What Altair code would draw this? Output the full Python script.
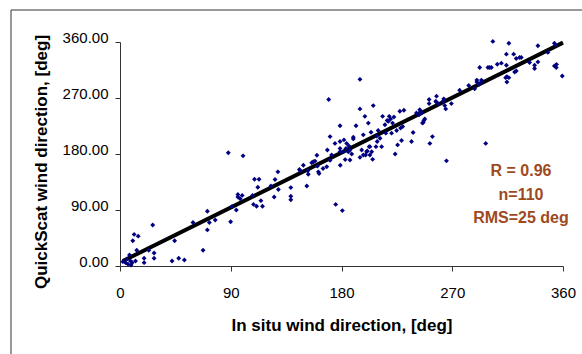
import altair as alt
import pandas as pd

in_situ = [2.3, 4.5, 5.5, 6.5, 7.7, 8.5, 9, 9.9, 12.6, 13.6, 10.4, 11.5, 14.8, 19.6, 19.6, 23.4, 26.6, 27.7, 27.7,
           42.3, 44.4, 47.7, 52.3, 59.3, 67.5, 71, 71, 72.6, 77.4, 89.9, 91, 94.5, 88, 100, 109.3, 113, 112,
           95.8, 95.8, 99.3, 97.7, 108.5, 111, 114.5, 115.8, 107.7, 122.6, 125.3, 126, 128.3, 128.7, 138.8,
           138.8, 138.8, 145.8, 149, 152.6, 151.8, 155.8, 158.5, 160, 160.4, 161.8, 165, 168, 168.5, 170.7,
           174.7, 178.8, 178.8, 182, 184.2, 183.6, 183, 179, 185.5, 175.3, 180.7, 195, 169.6, 195, 205.8, 199,
           201.8, 213.4, 218.8, 217.1, 215.3, 221.5, 227.4, 230.7, 178.8, 191.8, 186, 189.6, 189.6, 197.7, 204,
           209.8, 216, 220.7, 224.8, 228, 229.7, 225.6, 228.8, 223.6, 238.2, 236.9, 243, 246.4, 251.2, 251.2,
           257.2, 257.2, 251.8, 178.8, 181.5, 186.9, 188.3, 186.9, 196.4, 197.7, 200.4, 202.5, 204.5, 205.3,
           195, 208.6, 211.3, 212.6, 208, 153, 157.1, 161.2, 170.7, 172, 303, 316, 339.6, 353, 354, 314, 319.9,
           326.1, 324.7, 322, 332.8, 336.9, 336.9, 347.7, 353, 359.4, 306.6, 309.9, 314, 299, 300.4, 301.8,
           292.3, 320.7, 322, 314.4, 313.4, 314.4, 316, 290, 290, 293.7, 293.7, 291.7, 283.4, 276, 288.2,
           256.6, 258.5, 263.1, 269.3, 263.9, 264.7, 243.6, 245, 246.9, 245.8, 253.9, 297.2, 265.3, 203.1,
           200.9, 199.6, 209, 203.1, 218, 219.9, 222.6, 262.5, 240.9, 244.1, 247.7, 146.4, 354.7, 354.5, 339.6]
quickscat = [7, 5.4, 11, 3, 17.8, 8, 1.6, 5.4, 8, 25.4, 40.5, 50.8, 48, 12.4, 5.4, 25.4, 66, 21, 12.4,
             8, 40.5, 12.4, 9.7, 70, 25.4, 88, 58, 70, 74, 71, 95.7, 90, 182, 177, 139.5, 139.5, 126.5,
             115, 110.8, 113.5, 108, 99, 96, 105, 96, 113.5, 128.6, 110.8, 139, 151.3, 123, 126,
             112, 106.5, 155, 162, 153, 128.6, 166, 168.6, 178, 160.5, 148.7, 156.8, 159.4, 186.5, 208,
             197, 200, 189, 202.7, 197, 189, 171, 162, 183.7, 99, 89, 300, 267.6, 252.5, 257.8, 240.5,
             229.7, 240.5, 240.5, 234, 227, 229.7, 248.6, 250.2, 225.4, 225.4, 193, 207, 204.3, 210.8, 215,
             217.8, 213.5, 213.5, 217.8, 221.6, 224.3, 194.6, 201.6, 180, 214.6, 200, 243, 230.8, 267.6, 261,
             273, 263, 197, 183.7, 183.7, 186.5, 180, 170.3, 186.5, 178.4, 183.7, 191.8, 183.7, 171.4,
             174.6, 209, 205.4, 191.8, 191.8, 147.5, 167.5, 151.3, 170, 178.4, 361, 358, 354, 358, 355, 340.5, 340.5,
             335, 335, 333.5, 327, 322.7, 317.3, 343.3, 321.6, 305.4, 324.3, 326, 322.7, 319, 319, 319,
             319, 311.8, 313.4, 304.3, 302.7, 295.6, 302.7, 298.8, 295.6, 298.8, 295.6, 291.9, 290, 282.6, 284.9,
             264.8, 261, 268.6, 261, 257.8, 252.5, 251.3, 246, 234, 229.7, 208, 197, 169, 178.4,
             184.8, 178.4, 200, 191.8, 232.4, 236.3, 239.5, 264.8, 246, 248.6, 236.3, 153, 324, 319, 328]

fit_x = [2.3, 360]
fit_y = [8, 359]

stats_lines = ["R = 0.96", "n=110", "RMS=25 deg"]
tick_vals = [0, 90, 180, 270, 360]

pts = pd.DataFrame({"x": in_situ, "y": quickscat})
fit = pd.DataFrame({"x": fit_x, "y": fit_y})

FONT = "Liberation Sans"

xscale = alt.Scale(domain=[0, 360], nice=False, zero=False)
yscale = alt.Scale(domain=[0, 360], nice=False, zero=False)

xaxis = alt.Axis(values=tick_vals, format="d", title="In situ wind direction, [deg]",
                 grid=False, domainColor="#333333", tickColor="#333333", tickSize=5,
                 labelFont=FONT, labelFontSize=15, labelColor="black", labelPadding=14,
                 titleFont=FONT, titleFontSize=17, titleFontWeight="bold", titleColor="black",
                 titleY=64, titleBaseline="alphabetic", labelFlush=False)
yaxis = alt.Axis(values=tick_vals, format=".2f", title="QuickScat wind direction, [deg]",
                 grid=False, domainColor="#333333", tickColor="#333333", tickSize=5,
                 labelFont=FONT, labelFontSize=15, labelColor="black", labelPadding=7,
                 labelOffset=-5,
                 titleFont=FONT, titleFontSize=17, titleFontWeight="bold", titleColor="black",
                 titleX=-74, titleY=119.5, titleAngle=270, titleAlign="center",
                 titleBaseline="alphabetic", labelFlush=False)

points = alt.Chart(pts).mark_point(shape="diamond", filled=True, color="#000080",
                                    size=24, opacity=1).encode(
    x=alt.X("x:Q", scale=xscale, axis=xaxis),
    y=alt.Y("y:Q", scale=yscale, axis=yaxis),
)

line = alt.Chart(fit).mark_line(color="black", strokeWidth=4).encode(
    x=alt.X("x:Q", scale=xscale),
    y=alt.Y("y:Q", scale=yscale),
)

stats = alt.Chart(pd.DataFrame({"a": [0]})).mark_text(
    font=FONT, fontSize=16, fontWeight="bold", color="#9E4A1E", align="center",
    baseline="alphabetic", lineHeight=23.5
).encode(x=alt.value(401), y=alt.value(134), text=alt.value(stats_lines))

border_v = alt.Chart(pd.DataFrame({"a": [0]})).mark_rule(color="#333333", strokeWidth=1).encode(
    x=alt.value(-109), y=alt.value(-32), y2=alt.value(400))
border_h = alt.Chart(pd.DataFrame({"a": [0]})).mark_rule(color="#333333", strokeWidth=1).encode(
    x=alt.value(-109), x2=alt.value(500), y=alt.value(-32))

chart = alt.layer(border_v, border_h, line, points, stats).properties(
    width=443, height=224,
    autosize=alt.AutoSizeParams(type="none"),
    padding={"left": 120, "top": 42, "right": 19, "bottom": 88},
    background="white",
).configure_view(stroke=None)

chart.save("out.html", embed_options={"renderer": "svg", "actions": False})
